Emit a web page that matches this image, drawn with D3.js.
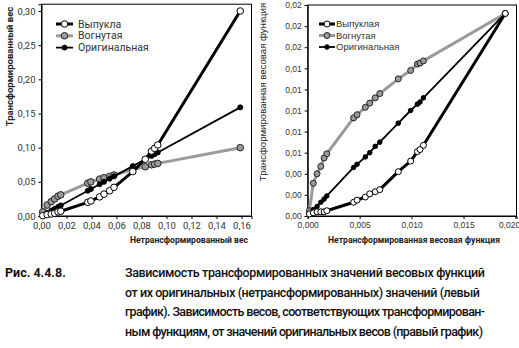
<!DOCTYPE html>
<html><head><meta charset="utf-8">
<script src="https://cdn.jsdelivr.net/npm/d3@7"></script>
<style>
body{margin:0;background:#fff;}
svg{display:block;}
</style></head>
<body>
<svg id="c" width="519" height="348"></svg>
<script>
// ---- Left chart data ----
const leftX        = [0.001, 0.0045, 0.0078, 0.0105, 0.0132, 0.0154, 0.037, 0.0395, 0.0465, 0.050, 0.0545, 0.058, 0.073, 0.083, 0.088, 0.0905, 0.093, 0.159];
const leftConvex   = [0.0005, 0.002, 0.003, 0.004, 0.006, 0.007, 0.020, 0.022, 0.028, 0.032, 0.037, 0.042, 0.065, 0.083, 0.095, 0.099, 0.104, 0.300];
const leftConcave  = [0.006, 0.016, 0.021, 0.025, 0.029, 0.031, 0.048, 0.050, 0.054, 0.056, 0.058, 0.060, 0.068, 0.072, 0.075, 0.076, 0.077, 0.100];
const leftOriginal = [0.001, 0.0045, 0.0078, 0.0105, 0.0132, 0.0154, 0.037, 0.0395, 0.0465, 0.050, 0.0545, 0.058, 0.073, 0.083, 0.088, 0.0905, 0.093, 0.159];
const leftXTicks = [0, 0.02, 0.04, 0.06, 0.08, 0.10, 0.12, 0.14, 0.16];
const leftYTicks = [0, 0.05, 0.10, 0.15, 0.20, 0.25, 0.30];

// ---- Right chart data ----
const rightX        = [0.00016, 0.00054, 0.00090, 0.00126, 0.00158, 0.00184, 0.00442, 0.00475, 0.00555, 0.00597, 0.00650, 0.00694, 0.00872, 0.00991, 0.01056, 0.01081, 0.01114, 0.01902];
const rightConvex   = [0.0002, 0.0003, 0.0004, 0.0004, 0.0004, 0.0005, 0.0013, 0.0015, 0.0018, 0.0021, 0.0023, 0.0025, 0.0042, 0.0052, 0.0061, 0.0063, 0.0067, 0.0192];
const rightConcave  = [0.0005, 0.0031, 0.0040, 0.0047, 0.0055, 0.0059, 0.0093, 0.0096, 0.0103, 0.0107, 0.0112, 0.0116, 0.0130, 0.0138, 0.0144, 0.0145, 0.0147, 0.0192];
const rightOriginal = [0.0002, 0.0006, 0.0009, 0.0013, 0.0016, 0.0019, 0.0046, 0.0049, 0.0056, 0.0060, 0.0066, 0.0070, 0.0088, 0.0100, 0.0106, 0.0108, 0.0112, 0.0192];
const rightXTicks = [0, 0.005, 0.010, 0.015, 0.020];
const rightYTicks = [0, 0.002, 0.004, 0.006, 0.008, 0.010, 0.012, 0.014, 0.016, 0.018, 0.020];

const seriesNamesLeft  = ["Выпукла", "Вогнутая", "Оригинальная"];
const seriesNamesRight = ["Выпуклая", "Вогнутая", "Оригинальная"];

const captionLabel = "Рис. 4.4.8.";
const captionLines = [
  "Зависимость трансформированных значений весовых функций",
  "от их оригинальных (нетрансформированных) значений (левый",
  "график). Зависимость весов, соответствующих трансформирован-",
  "ным функциям, от значений оригинальных весов (правый график)"
];

const svg = d3.select("#c");
const GRAY = "#9a9a9a";
const TXT = "#333";

function fmt(d, dec){ return d.toFixed(dec).replace(".", ","); }

function drawChart(o){
  const g = svg.append("g");
  const x = d3.scaleLinear().domain(o.xDomain).range(o.xRange);
  const y = d3.scaleLinear().domain(o.yDomain).range(o.yRange);
  g.append("rect").attr("x", o.xRange[0]).attr("y", o.yRange[1])
    .attr("width", o.xRange[1]-o.xRange[0]).attr("height", o.yRange[0]-o.yRange[1])
    .attr("fill","none").attr("stroke","#000").attr("stroke-width",1);
  const xa = d3.axisBottom(x).tickValues(o.xTicks).tickSize(3).tickPadding(3)
      .tickFormat(d=>fmt(d,o.xDec));
  const ya = d3.axisLeft(y).tickValues(o.yTicks).tickSize(3).tickPadding(3)
      .tickFormat(d=>fmt(d,o.yDec));
  const gx = g.append("g").attr("transform",`translate(0,${o.yRange[0]})`).call(xa);
  const gy = g.append("g").attr("transform",`translate(${o.xRange[0]},0)`).call(ya);
  [gx,gy].forEach(a=>{
    a.select(".domain").attr("stroke","#000");
    a.selectAll(".tick line").attr("stroke","#000");
    a.selectAll("text").attr("fill",TXT).style("font-family",o.tickFont).style("font-size",o.tickSize+"px");
  });
  if (o.lastXEnd) {
    gx.selectAll(".tick").filter((d,i,n)=>i===n.length-1).select("text")
      .attr("text-anchor","end").attr("dx", o.lastXEnd);
  }
  const line = d3.line().x(d=>x(d[0])).y(d=>y(d[1]));
  const mk = (xs,ys)=>xs.map((v,i)=>[v,ys[i]]);
  const s = [
    {name:o.names[1], d:mk(o.xs,o.concave), stroke:GRAY, w:3, fill:GRAY, r:o.r, ms:"#222"},
    {name:o.names[2], d:mk(o.xs,o.original), stroke:"#000", w:1.8, fill:"#000", r:o.r2, ms:"#000"},
    {name:o.names[0], d:mk(o.xs,o.convex), stroke:"#000", w:3, fill:"#fff", r:o.r, ms:"#000"}
  ];
  s.forEach(se=>{
    g.append("path").datum(se.d).attr("d",line).attr("fill","none")
      .attr("stroke",se.stroke).attr("stroke-width",se.w).attr("stroke-linejoin","round");
    g.selectAll(null).data(se.d).enter().append("circle")
      .attr("cx",d=>x(d[0])).attr("cy",d=>y(d[1])).attr("r",se.r)
      .attr("fill",se.fill).attr("stroke",se.ms).attr("stroke-width",1);
  });
  const legOrder = [s[2], s[0], s[1]];
  legOrder.forEach((se,i)=>{
    const ly = o.legY + i*o.legDy;
    g.append("line").attr("x1",o.legX).attr("x2",o.legX+o.legLen).attr("y1",ly).attr("y2",ly)
      .attr("stroke",se.stroke).attr("stroke-width",se.w);
    g.append("circle").attr("cx",o.legX+o.legLen/2).attr("cy",ly).attr("r",se===s[1]?o.r2:o.r)
      .attr("fill",se.fill).attr("stroke",se.ms).attr("stroke-width",1);
    g.append("text").attr("x",o.legX+o.legLen+o.legGap).attr("y",ly).attr("dy","0.35em")
      .attr("fill",TXT).style("font-family",o.legFont).style("font-size",o.legSize+"px").text(se.name);
  });
  g.append("text").attr("transform",`translate(${o.yTitleX},${o.yTitleY}) rotate(-90)`)
    .attr("text-anchor","middle").attr("fill","#222")
    .style("font-family",o.titleFont).style("font-size",o.titleSize+"px").style("font-weight",o.yTitleWeight)
    .text(o.yTitle);
  g.append("text").attr("x",o.xTitleX).attr("y",o.xTitleY)
    .attr("text-anchor","middle").attr("fill","#222")
    .style("font-family","Roboto, sans-serif").style("font-size",o.xTitleSize+"px").style("font-weight","bold")
    .text(o.xTitle);
}

drawChart({
  xDomain:[0,0.168], xRange:[41.5,251.5], yDomain:[0,0.31], yRange:[216,4.2],
  xTicks:leftXTicks, yTicks:leftYTicks, xDec:2, yDec:2,
  tickFont:"Roboto, sans-serif", tickSize:9.5,
  xs:leftX, convex:leftConvex, concave:leftConcave, original:leftOriginal,
  names:seriesNamesLeft, r:3.3, r2:2.5,
  legX:56, legY:24, legDy:11.8, legLen:17, legGap:5, legFont:"Roboto, sans-serif", legSize:10.5,
  yTitle:"Трансформированный вес", yTitleX:13, yTitleY:66.5, titleFont:"Roboto, sans-serif", titleSize:9.5, yTitleWeight:"bold",
  xTitle:"Нетрансформированный вес", xTitleX:189, xTitleY:243, xTitleSize:8.6
});

drawChart({
  xDomain:[0,0.0201], xRange:[307.7,516.5], yDomain:[0,0.02], yRange:[216,5],
  xTicks:rightXTicks, yTicks:rightYTicks, xDec:3, yDec:2,
  tickFont:"'Liberation Sans', Arial, sans-serif", tickSize:8.5, lastXEnd:"0.5em",
  xs:rightX, convex:rightConvex, concave:rightConcave, original:rightOriginal,
  names:seriesNamesRight, r:3, r2:2.3,
  legX:319, legY:24, legDy:11.5, legLen:16, legGap:1, legFont:"'Liberation Sans', Arial, sans-serif", legSize:9.5,
  yTitle:"Трансформированная весовая функция", yTitleX:266, yTitleY:92, titleFont:"'Liberation Sans', Arial, sans-serif", titleSize:9.6, yTitleWeight:"normal",
  xTitle:"Нетрансформированная весовая функция", xTitleX:414, xTitleY:243, xTitleSize:8.6
});

svg.append("text").attr("x",5).attr("y",277).attr("fill","#111")
  .style("font-family","Roboto, sans-serif").style("font-size","12.5px").style("font-weight","bold")
  .text(captionLabel);
const capW = [360, 355, 360, 358];
captionLines.forEach((t,i)=>{
  svg.append("text").attr("x",125).attr("y",277+i*19.6).attr("fill","#111")
    .attr("textLength",capW[i]).attr("lengthAdjust","spacing")
    .style("font-family","Roboto, sans-serif").style("font-size","12.5px").style("font-weight","500")
    .text(t);
});
</script>
</body></html>
